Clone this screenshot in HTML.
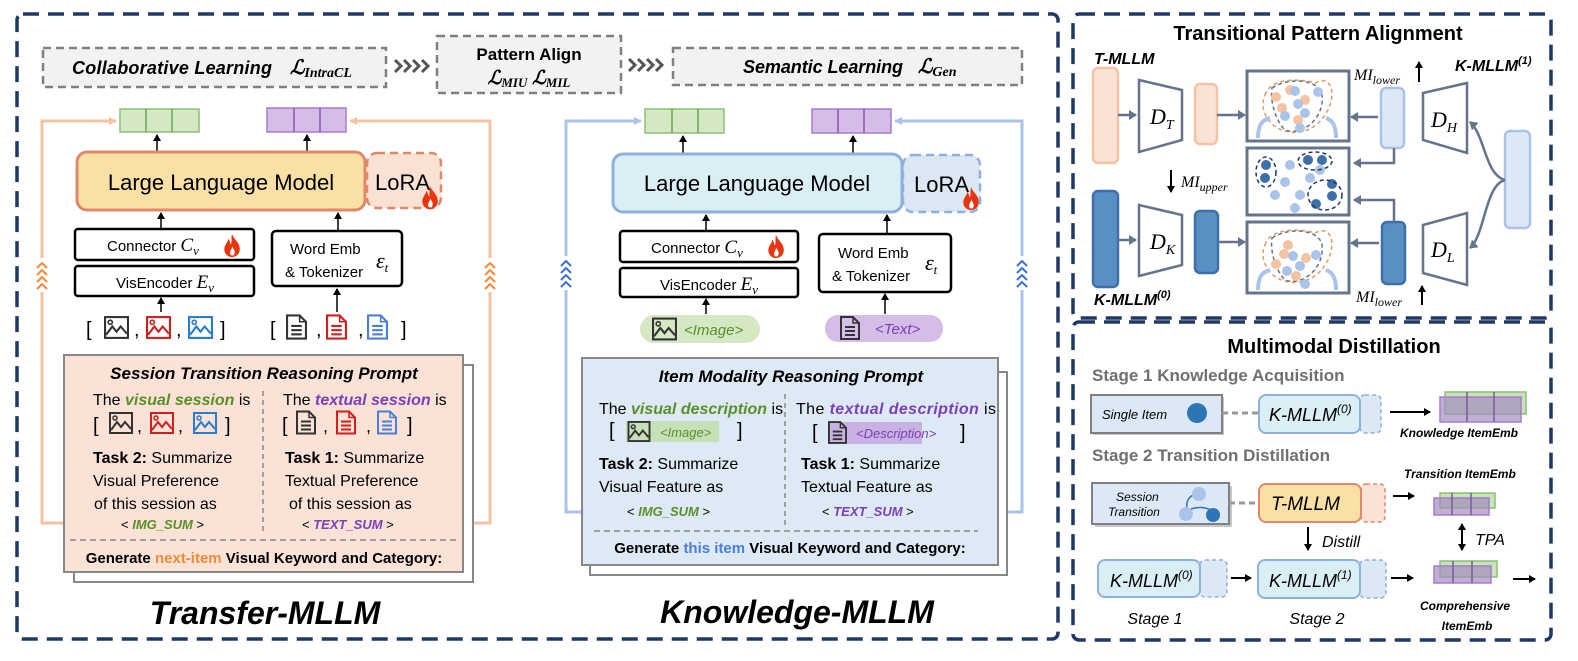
<!DOCTYPE html>
<html><head><meta charset="utf-8"><style>
body{margin:0;background:#fff}
svg{display:block;font-family:"Liberation Sans",sans-serif}
</style></head><body>
<svg width="1578" height="661" viewBox="0 0 1578 661" xmlns="http://www.w3.org/2000/svg">
<defs>
<marker id="ak" markerWidth="8" markerHeight="8" refX="6" refY="4" orient="auto" markerUnits="userSpaceOnUse"><path d="M0,0 L7,4 L0,8 z" fill="#000"/></marker>
<marker id="ag" markerWidth="10" markerHeight="10" refX="7" refY="5" orient="auto" markerUnits="userSpaceOnUse"><path d="M0,0 L8,5 L0,10 z" fill="#64748b"/></marker>
<marker id="ao" markerWidth="10" markerHeight="10" refX="7" refY="5" orient="auto" markerUnits="userSpaceOnUse"><path d="M0,1 L8,5 L0,9 z" fill="#f6c3a2"/></marker>
<marker id="ab" markerWidth="10" markerHeight="10" refX="7" refY="5" orient="auto" markerUnits="userSpaceOnUse"><path d="M0,1 L8,5 L0,9 z" fill="#aac3e8"/></marker>
<symbol id="img" viewBox="0 0 24 22"><rect x="1" y="1" width="22" height="20" fill="none" stroke="currentColor" stroke-width="2"/><circle cx="6" cy="6" r="2" fill="none" stroke="currentColor" stroke-width="1.5"/><polyline points="2,18 8,10 12,15 16,10 22,17" fill="none" stroke="currentColor" stroke-width="2"/></symbol>
<symbol id="doc" viewBox="0 0 20 24"><path d="M1,1 H13 L19,7 V23 H1 Z" fill="none" stroke="currentColor" stroke-width="2"/><path d="M13,1 V7 H19" fill="none" stroke="currentColor" stroke-width="1.5"/><line x1="5" y1="11" x2="15" y2="11" stroke="currentColor" stroke-width="2"/><line x1="5" y1="15" x2="15" y2="15" stroke="currentColor" stroke-width="2"/><line x1="5" y1="19" x2="15" y2="19" stroke="currentColor" stroke-width="2"/></symbol>
<symbol id="fire" viewBox="0 0 20 26"><path d="M10,1 C12,7 19,10 18,18 C17,24 12,25 10,25 C6,25 2,22 2,17 C2,12 6,10 6,6 C8,8 8,11 9,12 C10,8 9,4 10,1 Z" fill="#e8340f"/><path d="M10,14 C12,17 14,19 12,23 C10,24 8,23 8,21 C8,18 10,17 10,14 Z" fill="#fff"/></symbol>
<symbol id="chev" viewBox="0 0 12 28"><polyline points="1,7 6,2 11,7" fill="none" stroke="currentColor" stroke-width="2"/><polyline points="1,14 6,9 11,14" fill="none" stroke="currentColor" stroke-width="2"/><polyline points="1,21 6,16 11,21" fill="none" stroke="currentColor" stroke-width="2"/><polyline points="1,28 6,23 11,28" fill="none" stroke="currentColor" stroke-width="2"/></symbol>
<symbol id="hchev" viewBox="0 0 40 16"><g fill="none" stroke="#555" stroke-width="3"><polyline points="2,2 8,8 2,14"/><polyline points="11,2 17,8 11,14"/><polyline points="20,2 26,8 20,14"/><polyline points="29,2 35,8 29,14"/></g></symbol>
</defs>

<!-- outer boxes -->
<rect x="17" y="14" width="1041" height="625" rx="6" fill="none" stroke="#1f3864" stroke-width="3.5" stroke-dasharray="16,9"/>
<rect x="1073" y="14" width="478" height="304" rx="6" fill="none" stroke="#1f3864" stroke-width="3.5" stroke-dasharray="16,9"/>
<rect x="1073" y="322" width="478" height="318" rx="6" fill="none" stroke="#1f3864" stroke-width="3.5" stroke-dasharray="16,9"/>

<!-- top banner -->
<g font-weight="bold" font-style="italic">
<rect x="43" y="48" width="343" height="39" fill="#f2f2f2" stroke="#808080" stroke-width="2.5" stroke-dasharray="8,5"/>
<text x="72" y="74" font-size="18" textLength="200">Collaborative  Learning</text>
<text x="290" y="74" font-size="20" font-family="Liberation Serif">ℒ<tspan font-size="14" dy="3">IntraCL</tspan></text>
<use href="#hchev" x="393" y="58" width="40" height="16"/>
<rect x="437" y="36" width="184" height="57" fill="#f2f2f2" stroke="#808080" stroke-width="2.5" stroke-dasharray="8,5"/>
<text x="529" y="60" font-size="17" text-anchor="middle" font-style="normal">Pattern Align</text>
<text x="529" y="84" font-size="19" text-anchor="middle" font-family="Liberation Serif">ℒ<tspan font-size="13" dy="3">MIU</tspan><tspan dy="-3"> ℒ</tspan><tspan font-size="13" dy="3">MIL</tspan></text>
<use href="#hchev" x="627" y="57" width="40" height="16"/>
<rect x="673" y="48" width="349" height="37" fill="#f2f2f2" stroke="#808080" stroke-width="2.5" stroke-dasharray="8,5"/>
<text x="743" y="73" font-size="18" textLength="160">Semantic Learning</text>
<text x="918" y="73" font-size="20" font-family="Liberation Serif">ℒ<tspan font-size="14" dy="3">Gen</tspan></text>
</g>

<!-- ================= Transfer-MLLM ================= -->
<g fill="none" stroke="#f6c3a2" stroke-width="3">
<polyline points="106,523 42,523 42,121 116,121" marker-end="url(#ao)"/>
<polyline points="413,523 490,523 490,121 350,121" marker-end="url(#ao)"/>
</g>
<rect x="36" y="258" width="12" height="34" fill="#fff"/><use href="#chev" x="36" y="260" width="12" height="30" color="#f08a3c"/>
<rect x="484" y="258" width="12" height="34" fill="#fff"/><use href="#chev" x="484" y="260" width="12" height="30" color="#f08a3c"/>
<g stroke-width="1.5">
<rect x="120" y="109" width="79" height="23" fill="#d5e8c4" stroke="#8cbf78"/><line x1="146" y1="109" x2="146" y2="132" stroke="#6aa45a"/><line x1="172" y1="109" x2="172" y2="132" stroke="#6aa45a"/>
<rect x="267" y="108" width="79" height="24" fill="#d4bde6" stroke="#a77bd0"/><line x1="294" y1="108" x2="294" y2="132" stroke="#8a55b8"/><line x1="320" y1="108" x2="320" y2="132" stroke="#8a55b8"/>
</g>
<g stroke="#000" stroke-width="1.5" marker-end="url(#ak)">
<line x1="157" y1="151" x2="157" y2="135"/><line x1="307" y1="151" x2="307" y2="135"/>
<line x1="161" y1="228" x2="161" y2="213"/><line x1="338" y1="230" x2="338" y2="213"/>
<line x1="161" y1="312" x2="161" y2="298"/><line x1="337" y1="312" x2="337" y2="289"/>
</g>
<rect x="367" y="153" width="74" height="55" rx="10" fill="#f9e1d3" stroke="#e0896a" stroke-width="2.5" stroke-dasharray="8,5"/>
<rect x="77" y="152" width="288" height="58" rx="10" fill="#fbe0a6" stroke="#e0896a" stroke-width="3"/>
<text x="221" y="190" font-size="22" text-anchor="middle">Large Language Model</text>
<text x="375" y="190" font-size="22">LoRA</text>
<use href="#fire" x="420" y="185" width="20" height="25"/>
<rect x="75" y="229" width="179" height="31" rx="3" fill="#fff" stroke="#000" stroke-width="2.5"/>
<text x="107" y="251" font-size="15">Connector <tspan font-family="Liberation Serif" font-style="italic" font-size="19">C<tspan font-size="13" dy="4">v</tspan></tspan></text>
<use href="#fire" x="222" y="233" width="20" height="25"/>
<rect x="75" y="266" width="179" height="30" rx="3" fill="#fff" stroke="#000" stroke-width="2.5"/>
<text x="116" y="288" font-size="15">VisEncoder <tspan font-family="Liberation Serif" font-style="italic" font-size="19">E<tspan font-size="13" dy="4">v</tspan></tspan></text>
<rect x="272" y="231" width="130" height="55" rx="4" fill="#fff" stroke="#000" stroke-width="2.5"/>
<text x="290" y="254" font-size="15">Word Emb</text><text x="285" y="277" font-size="15">&amp; Tokenizer</text>
<text x="376" y="268" font-size="22" font-family="Liberation Serif" font-style="italic">ε<tspan font-size="13" dy="4">t</tspan></text>
<g font-size="20">
<text x="86" y="336">[</text><use href="#img" x="104" y="316" width="25" height="23" color="#333"/><text x="134" y="336">,</text>
<use href="#img" x="146" y="316" width="25" height="23" color="#d01f1f"/><text x="176" y="336">,</text>
<use href="#img" x="188" y="316" width="25" height="23" color="#2a7ad0"/><text x="220" y="336">]</text>
<text x="270" y="336">[</text><use href="#doc" x="286" y="314" width="21" height="26" color="#333"/><text x="316" y="336">,</text>
<use href="#doc" x="326" y="314" width="21" height="26" color="#d01f1f"/><text x="358" y="336">,</text>
<use href="#doc" x="367" y="314" width="21" height="26" color="#4a7fd8"/><text x="401" y="336">]</text>
</g>
<!-- prompt -->
<rect x="74" y="365" width="399" height="217" fill="#fff" stroke="#888" stroke-width="2"/>
<rect x="64" y="355" width="399" height="217" fill="#fae3d6" stroke="#888" stroke-width="2"/>
<text x="264" y="379" font-size="17" font-weight="bold" font-style="italic" text-anchor="middle">Session Transition Reasoning Prompt</text>
<line x1="263" y1="391" x2="263" y2="535" stroke="#888" stroke-width="1.5" stroke-dasharray="5,4"/>
<line x1="70" y1="540" x2="456" y2="540" stroke="#888" stroke-width="1.5" stroke-dasharray="6,4"/>
<g font-size="16">
<text x="93" y="405">The <tspan fill="#5a8f2a" font-weight="bold" font-style="italic">visual session</tspan> is</text>
<text x="283" y="405">The <tspan fill="#7b3fb8" font-weight="bold" font-style="italic">textual session</tspan> is</text>
<text x="93" y="463"><tspan font-weight="bold">Task 2:</tspan> Summarize</text>
<text x="93" y="486">Visual Preference</text>
<text x="94" y="509">of this session as</text>
<text x="285" y="463"><tspan font-weight="bold">Task 1:</tspan> Summarize</text>
<text x="285" y="486">Textual Preference</text>
<text x="289" y="509">of this session as</text>
<text x="121" y="529" font-size="13">&lt; <tspan fill="#5a8f2a" font-style="italic" font-weight="bold">IMG_SUM</tspan> &gt;</text>
<text x="302" y="529" font-size="13">&lt; <tspan fill="#7b3fb8" font-style="italic" font-weight="bold">TEXT_SUM</tspan> &gt;</text>
<text x="264" y="563" font-size="15" font-weight="bold" text-anchor="middle">Generate <tspan fill="#f08a3c">next-item</tspan> Visual Keyword and Category:</text>
<text x="93" y="432" font-size="20">[</text><use href="#img" x="109" y="412" width="24" height="22" color="#333"/><text x="137" y="432" font-size="18">,</text>
<use href="#img" x="150" y="412" width="24" height="22" color="#d01f1f"/><text x="178" y="432" font-size="18">,</text>
<use href="#img" x="193" y="412" width="24" height="22" color="#2a7ad0"/><text x="225" y="432" font-size="20">]</text>
<text x="282" y="432" font-size="20">[</text><use href="#doc" x="296" y="410" width="20" height="25" color="#333"/><text x="323" y="432" font-size="18">,</text>
<use href="#doc" x="336" y="410" width="20" height="25" color="#d01f1f"/><text x="366" y="432" font-size="18">,</text>
<use href="#doc" x="377" y="410" width="20" height="25" color="#4a7fd8"/><text x="407" y="432" font-size="20">]</text>
</g>
<text x="265" y="624" font-size="32" font-weight="bold" font-style="italic" text-anchor="middle">Transfer-MLLM</text>

<!-- ================= Knowledge-MLLM ================= -->
<g fill="none" stroke="#aac3e8" stroke-width="3">
<polyline points="617,512 566,512 566,121 641,121" marker-end="url(#ab)"/>
<polyline points="932,512 1022,512 1022,121 895,121" marker-end="url(#ab)"/>
</g>
<rect x="560" y="256" width="12" height="34" fill="#fff"/><use href="#chev" x="560" y="258" width="12" height="30" color="#3b6fd0"/>
<rect x="1016" y="256" width="12" height="34" fill="#fff"/><use href="#chev" x="1016" y="258" width="12" height="30" color="#3b6fd0"/>
<g stroke-width="1.5">
<rect x="645" y="109" width="79" height="24" fill="#d5e8c4" stroke="#8cbf78"/><line x1="672" y1="109" x2="672" y2="133" stroke="#6aa45a"/><line x1="698" y1="109" x2="698" y2="133" stroke="#6aa45a"/>
<rect x="812" y="109" width="79" height="24" fill="#d4bde6" stroke="#a77bd0"/><line x1="838" y1="109" x2="838" y2="133" stroke="#8a55b8"/><line x1="864" y1="109" x2="864" y2="133" stroke="#8a55b8"/>
</g>
<g stroke="#000" stroke-width="1.5" marker-end="url(#ak)">
<line x1="683" y1="153" x2="683" y2="136"/><line x1="853" y1="153" x2="853" y2="136"/>
<line x1="706" y1="230" x2="706" y2="215"/><line x1="887" y1="233" x2="887" y2="215"/>
<line x1="706" y1="314" x2="706" y2="299"/><line x1="885" y1="314" x2="885" y2="294"/>
</g>
<rect x="903" y="155" width="77" height="57" rx="10" fill="#dce7f4" stroke="#8fb0dd" stroke-width="2.5" stroke-dasharray="8,5"/>
<rect x="613" y="154" width="289" height="58" rx="10" fill="#d9eef5" stroke="#8fb0dd" stroke-width="3"/>
<text x="757" y="191" font-size="22" text-anchor="middle">Large Language Model</text>
<text x="914" y="192" font-size="22">LoRA</text>
<use href="#fire" x="961" y="186" width="20" height="25"/>
<rect x="620" y="231" width="178" height="31" rx="3" fill="#fff" stroke="#000" stroke-width="2.5"/>
<text x="651" y="253" font-size="15">Connector <tspan font-family="Liberation Serif" font-style="italic" font-size="19">C<tspan font-size="13" dy="4">v</tspan></tspan></text>
<use href="#fire" x="766" y="234" width="20" height="25"/>
<rect x="620" y="268" width="178" height="29" rx="3" fill="#fff" stroke="#000" stroke-width="2.5"/>
<text x="660" y="290" font-size="15">VisEncoder <tspan font-family="Liberation Serif" font-style="italic" font-size="19">E<tspan font-size="13" dy="4">v</tspan></tspan></text>
<rect x="819" y="234" width="132" height="58" rx="4" fill="#fff" stroke="#000" stroke-width="2.5"/>
<text x="838" y="258" font-size="15">Word Emb</text><text x="832" y="281" font-size="15">&amp; Tokenizer</text>
<text x="925" y="270" font-size="22" font-family="Liberation Serif" font-style="italic">ε<tspan font-size="13" dy="4">t</tspan></text>
<rect x="640" y="315" width="120" height="28" rx="14" fill="#d5e8c4"/>
<use href="#img" x="652" y="317" width="25" height="24" color="#333"/>
<text x="684" y="335" font-size="15" fill="#5a8f2a" font-style="italic">&lt;Image&gt;</text>
<rect x="825" y="315" width="118" height="27" rx="13" fill="#d4bde6"/>
<use href="#doc" x="840" y="315" width="20" height="26" color="#333"/>
<text x="875" y="334" font-size="15" fill="#7b3fb8" font-style="italic">&lt;Text&gt;</text>
<!-- prompt -->
<rect x="590" y="372" width="417" height="203" fill="#fff" stroke="#888" stroke-width="2"/>
<rect x="582" y="358" width="416" height="207" fill="#dde9f5" stroke="#888" stroke-width="2"/>
<text x="791" y="382" font-size="17" font-weight="bold" font-style="italic" text-anchor="middle">Item Modality Reasoning Prompt</text>
<line x1="785" y1="394" x2="785" y2="525" stroke="#888" stroke-width="1.5" stroke-dasharray="5,4"/>
<line x1="594" y1="531" x2="978" y2="531" stroke="#888" stroke-width="1.5" stroke-dasharray="6,4"/>
<g font-size="16">
<text x="599" y="414">The <tspan fill="#5a8f2a" font-weight="bold" font-style="italic">visual description</tspan> is</text>
<text x="796" y="414" textLength="200">The <tspan fill="#7b3fb8" font-weight="bold" font-style="italic">textual description</tspan> is</text>
<text x="609" y="437" font-size="20">[</text>
<rect x="626" y="421" width="93" height="21" fill="#c6e0b8"/>
<use href="#img" x="627" y="421" width="24" height="21" color="#333"/>
<text x="660" y="437" font-size="13" fill="#5a8f2a" font-style="italic">&lt;Image&gt;</text>
<text x="737" y="437" font-size="20">]</text>
<text x="812" y="439" font-size="20">[</text>
<rect x="828" y="422" width="94" height="22" fill="#c9b1e3"/>
<use href="#doc" x="828" y="420" width="19" height="25" color="#333"/>
<text x="856" y="438" font-size="13" fill="#7b3fb8" font-style="italic">&lt;Description&gt;</text>
<text x="960" y="439" font-size="20">]</text>
<text x="599" y="469"><tspan font-weight="bold">Task 2:</tspan> Summarize</text>
<text x="599" y="492">Visual Feature as</text>
<text x="801" y="469"><tspan font-weight="bold">Task 1:</tspan> Summarize</text>
<text x="801" y="492">Textual Feature as</text>
<text x="627" y="516" font-size="13">&lt; <tspan fill="#5a8f2a" font-style="italic" font-weight="bold">IMG_SUM</tspan> &gt;</text>
<text x="822" y="516" font-size="13">&lt; <tspan fill="#7b3fb8" font-style="italic" font-weight="bold">TEXT_SUM</tspan> &gt;</text>
<text x="790" y="553" font-size="15" font-weight="bold" text-anchor="middle">Generate <tspan fill="#4a7fd8">this item</tspan> Visual Keyword and Category:</text>
</g>
<text x="797" y="623" font-size="32" font-weight="bold" font-style="italic" text-anchor="middle">Knowledge-MLLM</text>

<!-- ================= TPA ================= -->
<text x="1318" y="40" font-size="20" font-weight="bold" text-anchor="middle">Transitional Pattern Alignment</text>
<text x="1094" y="64" font-size="16" font-weight="bold" font-style="italic">T-MLLM</text>
<text x="1455" y="71" font-size="16" font-weight="bold" font-style="italic">K-MLLM<tspan font-size="11" dy="-7">(1)</tspan></text>
<text x="1094" y="305" font-size="16" font-weight="bold" font-style="italic">K-MLLM<tspan font-size="11" dy="-7">(0)</tspan></text>
<g stroke-width="2.5">
<rect x="1093" y="68" width="25" height="95" rx="5" fill="#fae3d6" stroke="#f6c3a2"/>
<rect x="1195" y="84" width="22" height="60" rx="5" fill="#fae3d6" stroke="#f6c3a2"/>
<rect x="1093" y="191" width="25" height="96" rx="5" fill="#5a8fc4" stroke="#3e6fa8"/>
<rect x="1195" y="211" width="23" height="62" rx="5" fill="#5a8fc4" stroke="#3e6fa8"/>
<rect x="1381" y="88" width="23" height="60" rx="5" fill="#dce8f6" stroke="#aac3e8"/>
<rect x="1382" y="222" width="23" height="62" rx="5" fill="#5a8fc4" stroke="#3e6fa8"/>
<rect x="1505" y="131" width="25" height="97" rx="5" fill="#dce8f6" stroke="#aac3e8"/>
</g>
<g fill="#fff" stroke="#64748b" stroke-width="2.5">
<polygon points="1139,80 1182,90 1182,140 1139,152"/>
<polygon points="1139,205 1182,215 1182,265 1139,276"/>
<polygon points="1423,93 1467,83 1467,153 1423,140"/>
<polygon points="1423,225 1467,213 1467,285 1423,273"/>
</g>
<g font-family="Liberation Serif" font-style="italic" font-size="22">
<text x="1150" y="124">D<tspan font-size="14" dy="5">T</tspan></text>
<text x="1150" y="249">D<tspan font-size="14" dy="5">K</tspan></text>
<text x="1431" y="127">D<tspan font-size="14" dy="5">H</tspan></text>
<text x="1431" y="257">D<tspan font-size="14" dy="5">L</tspan></text>
</g>
<g font-family="Liberation Serif" font-style="italic" font-size="16">
<text x="1354" y="80">MI<tspan font-size="12" dy="4">lower</tspan></text>
<text x="1356" y="302">MI<tspan font-size="12" dy="4">lower</tspan></text>
<text x="1181" y="187">MI<tspan font-size="12" dy="4">upper</tspan></text>
</g>
<g stroke="#000" stroke-width="2" marker-end="url(#ak)">
<line x1="1419" y1="82" x2="1419" y2="62"/><line x1="1422" y1="305" x2="1422" y2="286"/><line x1="1171" y1="170" x2="1171" y2="192"/>
</g>
<g fill="none" stroke="#64748b" stroke-width="2.5" marker-end="url(#ag)">
<line x1="1118" y1="115" x2="1136" y2="115"/><line x1="1118" y1="240" x2="1136" y2="240"/>
<line x1="1217" y1="115" x2="1245" y2="115"/><line x1="1218" y1="242" x2="1245" y2="242"/>
<line x1="1378" y1="117" x2="1351" y2="117"/><line x1="1379" y1="243" x2="1351" y2="243"/>
<polyline points="1394,148 1394,163 1354,163"/><polyline points="1394,222 1394,200 1354,200"/>
<path d="M1505,180 C1485,175 1485,135 1470,122"/><path d="M1505,180 C1485,185 1485,235 1470,248"/>
</g>
<g fill="#fff" stroke="#64748b" stroke-width="3">
<rect x="1247" y="71" width="102" height="70"/><rect x="1247" y="148" width="102" height="67"/><rect x="1247" y="222" width="102" height="71"/>
</g>
<g>
<path d="M1265,95 C1270,78 1300,78 1315,83 C1330,75 1335,90 1330,105 C1325,120 1310,135 1290,132 C1270,130 1258,110 1265,95Z" fill="none" stroke="#e39a62" stroke-width="1.5" stroke-dasharray="4,3"/>
<path d="M1272,88 C1290,76 1320,80 1322,95 C1325,115 1305,137 1285,130 C1275,120 1270,100 1272,88Z" fill="none" stroke="#64748b" stroke-width="1.5" stroke-dasharray="4,3"/>
<path d="M1265,245 C1270,228 1300,228 1315,233 C1330,225 1335,240 1330,255 C1325,270 1310,285 1290,282 C1270,280 1258,260 1265,245Z" fill="none" stroke="#e39a62" stroke-width="1.5" stroke-dasharray="4,3"/>
<path d="M1272,238 C1290,226 1320,230 1322,245 C1325,265 1305,287 1285,280 C1275,270 1270,250 1272,238Z" fill="none" stroke="#64748b" stroke-width="1.5" stroke-dasharray="4,3"/>
<g fill="#f6c3a2"><circle cx="1276" cy="97" r="5"/><circle cx="1290" cy="90" r="5"/><circle cx="1282" cy="108" r="5"/><circle cx="1305" cy="100" r="5"/><circle cx="1298" cy="120" r="5"/><circle cx="1284" cy="254" r="5"/><circle cx="1276" cy="264" r="5"/><circle cx="1306" cy="258" r="5"/><circle cx="1296" cy="276" r="5"/><circle cx="1288" cy="245" r="5"/></g>
<g fill="#aac3e8"><circle cx="1295" cy="91" r="5"/><circle cx="1318" cy="92" r="5"/><circle cx="1298" cy="104" r="5"/><circle cx="1285" cy="116" r="5"/><circle cx="1305" cy="113" r="5"/><circle cx="1300" cy="128" r="5"/><circle cx="1293" cy="256" r="5"/><circle cx="1316" cy="255" r="5"/><circle cx="1300" cy="266" r="5"/><circle cx="1287" cy="271" r="5"/><circle cx="1305" cy="284" r="5"/>
<circle cx="1290" cy="165" r="5"/><circle cx="1310" cy="178" r="5"/><circle cx="1285" cy="182" r="5"/><circle cx="1300" cy="195" r="5"/><circle cx="1275" cy="195" r="5"/><circle cx="1295" cy="208" r="5"/><circle cx="1320" cy="170" r="5"/></g>
<g fill="#3e6fa8"><circle cx="1266" cy="165" r="5"/><circle cx="1265" cy="178" r="5"/><circle cx="1308" cy="160" r="5"/><circle cx="1322" cy="160" r="5"/><circle cx="1332" cy="184" r="5"/><circle cx="1332" cy="196" r="5"/><circle cx="1316" cy="204" r="5"/></g>
<g fill="none" stroke="#1f3864" stroke-width="1.5" stroke-dasharray="4,3"><ellipse cx="1266" cy="172" rx="10" ry="15"/><ellipse cx="1315" cy="161" rx="17" ry="9"/><ellipse cx="1325" cy="195" rx="17" ry="15"/></g>
<path d="M1258,138 C1258,125 1262,120 1270,118" fill="none" stroke="#aac3e8" stroke-width="4"/><path d="M1336,138 C1336,125 1332,120 1326,118" fill="none" stroke="#aac3e8" stroke-width="4"/>
<path d="M1258,290 C1258,277 1262,272 1270,270" fill="none" stroke="#aac3e8" stroke-width="4"/><path d="M1336,290 C1336,277 1332,272 1326,270" fill="none" stroke="#aac3e8" stroke-width="4"/>
</g>

<!-- ================= MD ================= -->
<text x="1334" y="353" font-size="20" font-weight="bold" text-anchor="middle">Multimodal Distillation</text>
<text x="1092" y="381" font-size="17" font-weight="bold" fill="#707070">Stage 1  Knowledge Acquisition</text>
<text x="1092" y="461" font-size="17" font-weight="bold" fill="#707070">Stage 2 Transition Distillation</text>
<rect x="1093" y="397" width="131" height="38" fill="#c7c7c7"/>
<rect x="1091" y="395" width="131" height="38" fill="#dce8f6" stroke="#808080" stroke-width="2"/>
<text x="1102" y="419" font-size="13" font-style="italic">Single Item</text>
<circle cx="1197" cy="413" r="10" fill="#2e75b6"/>
<line x1="1222" y1="413" x2="1258" y2="413" stroke="#999" stroke-width="3" stroke-dasharray="6,4"/>
<rect x="1360" y="395" width="21" height="38" rx="5" fill="#dce8f6" stroke="#8fb0dd" stroke-width="1.5" stroke-dasharray="4,3"/>
<rect x="1259" y="395" width="101" height="38" rx="7" fill="#d9eef5" stroke="#8fb0dd" stroke-width="2"/>
<text x="1269" y="421" font-size="18" font-style="italic">K-MLLM<tspan font-size="12" dy="-8">(0)</tspan></text>
<g stroke="#000" stroke-width="2" marker-end="url(#ak)"><line x1="1390" y1="412" x2="1430" y2="412"/></g>
<g stroke-width="1.5">
<rect x="1445" y="392" width="81" height="22" fill="#b9dca6" fill-opacity=".8" stroke="#8cbf78"/>
<rect x="1440" y="397" width="81" height="25" fill="#a58cc0" fill-opacity=".7" stroke="#a77bd0"/>
<line x1="1467" y1="392" x2="1467" y2="422" stroke="#7a5a9a"/><line x1="1494" y1="392" x2="1494" y2="422" stroke="#7a5a9a"/>
</g>
<text x="1400" y="437" font-size="12" font-weight="bold" font-style="italic">Knowledge  ItemEmb</text>
<text x="1404" y="478" font-size="12" font-weight="bold" font-style="italic">Transition ItemEmb</text>
<rect x="1095" y="486" width="137" height="41" fill="#c7c7c7"/>
<rect x="1092" y="483" width="137" height="41" fill="#dce8f6" stroke="#808080" stroke-width="2"/>
<text x="1116" y="501" font-size="12" font-style="italic">Session</text><text x="1108" y="516" font-size="12" font-style="italic">Transition</text>
<path d="M1187,511 C1185,498 1192,494 1199,494 M1187,511 C1195,506 1208,506 1214,513" fill="none" stroke="#2e75b6" stroke-width="1.5"/>
<circle cx="1199" cy="494" r="7" fill="#aac3e8"/><circle cx="1186" cy="514" r="7" fill="#aac3e8"/><circle cx="1213" cy="515" r="7" fill="#2e75b6"/>
<line x1="1229" y1="503" x2="1258" y2="503" stroke="#999" stroke-width="3" stroke-dasharray="6,4"/>
<rect x="1361" y="484" width="24" height="38" rx="5" fill="#fae3d6" stroke="#e0896a" stroke-width="1.5" stroke-dasharray="4,3"/>
<rect x="1259" y="484" width="102" height="38" rx="7" fill="#fbe0a6" stroke="#e0896a" stroke-width="2"/>
<text x="1271" y="510" font-size="19" font-style="italic">T-MLLM</text>
<g stroke="#000" stroke-width="2" marker-end="url(#ak)">
<line x1="1393" y1="496" x2="1414" y2="496"/><line x1="1308" y1="527" x2="1308" y2="550"/>
<line x1="1231" y1="578" x2="1251" y2="578"/><line x1="1391" y1="578" x2="1413" y2="578"/><line x1="1513" y1="579" x2="1535" y2="579"/>
<line x1="1462" y1="537" x2="1462" y2="550"/><line x1="1462" y1="537" x2="1462" y2="524"/>
</g>
<text x="1322" y="547" font-size="16" font-style="italic">Distill</text>
<text x="1475" y="545" font-size="16" font-style="italic">TPA</text>
<g stroke-width="1.5">
<rect x="1440" y="493" width="55" height="15" fill="#b9dca6" fill-opacity=".8" stroke="#8cbf78"/>
<rect x="1434" y="498" width="55" height="17" fill="#a58cc0" fill-opacity=".7" stroke="#a77bd0"/>
<line x1="1452" y1="493" x2="1452" y2="515" stroke="#7a5a9a"/><line x1="1471" y1="493" x2="1471" y2="515" stroke="#7a5a9a"/>
<rect x="1440" y="561" width="57" height="16" fill="#b9dca6" fill-opacity=".8" stroke="#8cbf78"/>
<rect x="1434" y="566" width="57" height="17" fill="#a58cc0" fill-opacity=".7" stroke="#a77bd0"/>
<line x1="1453" y1="561" x2="1453" y2="583" stroke="#7a5a9a"/><line x1="1472" y1="561" x2="1472" y2="583" stroke="#7a5a9a"/>
</g>
<rect x="1200" y="560" width="27" height="37" rx="5" fill="#dce8f6" stroke="#8fb0dd" stroke-width="1.5" stroke-dasharray="4,3"/>
<rect x="1098" y="560" width="102" height="37" rx="7" fill="#d9eef5" stroke="#8fb0dd" stroke-width="2"/>
<text x="1110" y="587" font-size="18" font-style="italic">K-MLLM<tspan font-size="12" dy="-8">(0)</tspan></text>
<rect x="1360" y="560" width="26" height="38" rx="5" fill="#dce8f6" stroke="#8fb0dd" stroke-width="1.5" stroke-dasharray="4,3"/>
<rect x="1258" y="560" width="102" height="38" rx="7" fill="#d9eef5" stroke="#8fb0dd" stroke-width="2"/>
<text x="1269" y="587" font-size="18" font-style="italic">K-MLLM<tspan font-size="12" dy="-8">(1)</tspan></text>
<text x="1155" y="624" font-size="16" font-style="italic" text-anchor="middle">Stage 1</text>
<text x="1317" y="624" font-size="16" font-style="italic" text-anchor="middle">Stage 2</text>
<text x="1465" y="610" font-size="12" font-weight="bold" font-style="italic" text-anchor="middle">Comprehensive</text>
<text x="1467" y="630" font-size="12" font-weight="bold" font-style="italic" text-anchor="middle">ItemEmb</text>
</svg>
</body></html>
